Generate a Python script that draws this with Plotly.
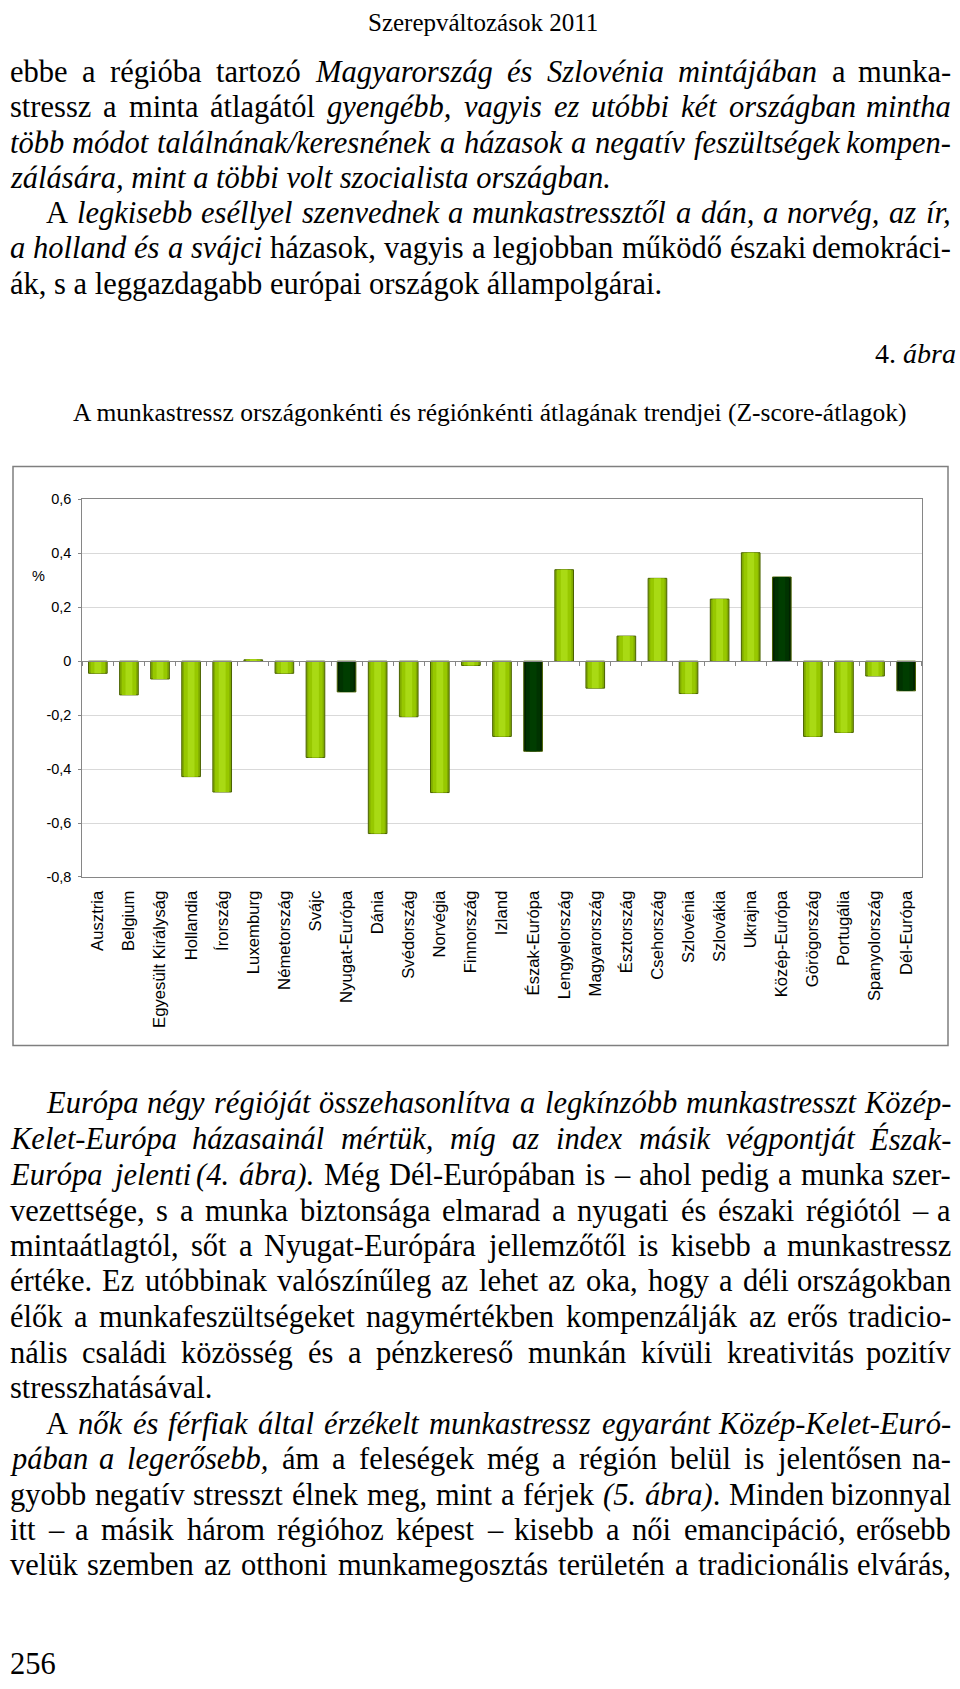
import re
import plotly.graph_objects as go

W, H = 960, 1689

categories = ["Ausztria", "Belgium", "Egyesült Királyság", "Hollandia", "Írország",
              "Luxemburg", "Németország", "Svájc", "Nyugat-Európa", "Dánia",
              "Svédország", "Norvégia", "Finnország", "Izland", "Észak-Európa",
              "Lengyelország", "Magyarország", "Észtország", "Csehország", "Szlovénia",
              "Szlovákia", "Ukrajna", "Közép-Európa", "Görögország", "Portugália",
              "Spanyolország", "Dél-Európa"]
values = [-0.045, -0.125, -0.066, -0.428, -0.485,
          0.005, -0.045, -0.357, -0.114, -0.639,
          -0.206, -0.487, -0.016, -0.279, -0.334,
          0.339, -0.100, 0.093, 0.307, -0.120,
          0.230, 0.402, 0.312, -0.279, -0.264,
          -0.055, -0.110]
regions = {"Nyugat-Európa", "Észak-Európa", "Közép-Európa", "Dél-Európa"}

ytick_vals = [0.6, 0.4, 0.2, 0, -0.2, -0.4, -0.6, -0.8]
ytick_text = ["0,6", "0,4", "0,2", "0", "-0,2", "-0,4", "-0,6", "-0,8"]

header = "Szerepváltozások 2011"
# (indented, justified, text)
para1 = [
    (False, True, "ebbe a régióba tartozó <i>Magyarország és Szlovénia mintájában</i> a munka-"),
    (False, True, "stressz a minta átlagától <i>gyengébb, vagyis ez utóbbi két országban mintha</i>"),
    (False, True, "<i>több módot találnának/keresnének a házasok a negatív feszültségek kompen-</i>"),
    (False, False, "<i>zálására, mint a többi volt szocialista országban.</i>"),
    (True, True, "A <i>legkisebb eséllyel szenvednek a munkastressztől a dán, a norvég, az ír,</i>"),
    (False, True, "<i>a holland és a svájci</i> házasok, vagyis a legjobban működő északi demokráci-"),
    (False, False, "ák, s a leggazdagabb európai országok állampolgárai."),
]
fig_label = "4. <i>ábra</i>"
chart_title = "A munkastressz országonkénti és régiónkénti átlagának trendjei (Z-score-átlagok)"
para2 = [
    (True, True, "<i>Európa négy régióját összehasonlítva a legkínzóbb munkastresszt Közép-</i>"),
    (False, True, "<i>Kelet-Európa házasainál mértük, míg az index másik végpontját Észak-</i>"),
    (False, True, "<i>Európa jelenti (4. ábra).</i> Még Dél-Európában is – ahol pedig a munka szer-"),
    (False, True, "vezettsége, s a munka biztonsága elmarad a nyugati és északi régiótól – a"),
    (False, True, "mintaátlagtól, sőt a Nyugat-Európára jellemzőtől is kisebb a munkastressz"),
    (False, True, "értéke. Ez utóbbinak valószínűleg az lehet az oka, hogy a déli országokban"),
    (False, True, "élők a munkafeszültségeket nagymértékben kompenzálják az erős tradicio-"),
    (False, True, "nális családi közösség és a pénzkereső munkán kívüli kreativitás pozitív"),
    (False, False, "stresszhatásával."),
    (True, True, "A <i>nők és férfiak által érzékelt munkastressz egyaránt Közép-Kelet-Euró-</i>"),
    (False, True, "<i>pában a legerősebb,</i> ám a feleségek még a régión belül is jelentősen na-"),
    (False, True, "gyobb negatív stresszt élnek meg, mint a férjek <i>(5. ábra)</i>. Minden bizonnyal"),
    (False, True, "itt – a másik három régióhoz képest – kisebb a női emancipáció, erősebb"),
    (False, True, "velük szemben az otthoni munkamegosztás területén a tradicionális elvárás,"),
]
page_no = "256"

# Times-compatible advance widths (per 1000 em) used for justification
ROMAN = dict(zip("abcdefghijklmnopqrstuvwxyz",
                 [444, 500, 444, 500, 444, 333, 500, 500, 278, 278, 500, 278, 778,
                  500, 500, 500, 500, 333, 389, 278, 500, 500, 722, 500, 500, 444]))
ROMAN.update(zip("ABCDEFGHIJKLMNOPQRSTUVWXYZ",
                 [722, 667, 667, 722, 611, 556, 722, 722, 333, 389, 722, 611, 889,
                  722, 722, 556, 722, 667, 556, 611, 722, 722, 944, 722, 722, 611]))
ITALIC = dict(zip("abcdefghijklmnopqrstuvwxyz",
                  [500, 500, 444, 500, 444, 278, 500, 500, 278, 278, 444, 278, 722,
                   500, 500, 500, 500, 389, 389, 278, 500, 444, 667, 444, 444, 389]))
ITALIC.update(zip("ABCDEFGHIJKLMNOPQRSTUVWXYZ",
                  [611, 611, 667, 722, 611, 611, 722, 722, 333, 444, 667, 556, 833,
                   667, 722, 611, 722, 611, 500, 556, 722, 611, 833, 611, 556, 556]))
PUNCT_R = {" ": 250, ",": 250, ".": 250, "-": 333, "–": 500, "(": 333, ")": 333,
           "/": 278, ":": 278}
PUNCT_I = {" ": 250, ",": 250, ".": 250, "-": 333, "–": 500, "(": 333, ")": 333,
           "/": 278, ":": 333}
BASE = str.maketrans("áéíóöőúüűÁÉÍÓÖŐÚÜŰ", "aeiooouuuAEIOOOUUU")


def char_w(ch, it):
    b = ch.translate(BASE)
    if b.isdigit():
        return 500
    table = ITALIC if it else ROMAN
    punct = PUNCT_I if it else PUNCT_R
    return table.get(b, punct.get(b, 500))


def parse(line):
    out, it = [], False
    for part in re.split(r"(</?i>)", line):
        if part == "<i>":
            it = True
        elif part == "</i>":
            it = False
        else:
            out += [(c, it) for c in part]
    return out


def words_of(line):
    words, cur = [], []
    for c, it in parse(line):
        if c == " ":
            if cur:
                words.append(cur)
            cur = []
        else:
            cur.append((c, it))
    if cur:
        words.append(cur)
    return words


def word_html(word):
    s, it = "", False
    for c, ci in word:
        if ci and not it:
            s += "<i>"
        if not ci and it:
            s += "</i>"
        it = ci
        s += c
    if it:
        s += "</i>"
    return s


def py(px):
    return 1 - px / H


def px_x(px):
    return px / W


SERIF = "Liberation Serif"
SANS = "Liberation Sans"
BODY = 30.5
LEFT, RIGHT = 8.6, 952.0

LIGHT_EDGE = "#80aa00"
LIGHT_MID = "#97c800"
LIGHT_HI = "#a9da14"
DARK = "#003300"
DARK_HI = "#003d00"

base_colors = [DARK if c in regions else LIGHT_MID for c in categories]
hi_colors = [DARK_HI if c in regions else LIGHT_HI for c in categories]
edge_colors = ["#002200" if c in regions else LIGHT_EDGE for c in categories]

fig = go.Figure()
fig.add_trace(go.Bar(x=categories, y=values, width=0.6,
                     marker=dict(color=edge_colors, line=dict(color="#4a6200", width=1)),
                     hoverinfo="x+y"))
fig.add_trace(go.Bar(x=categories, y=values, width=0.46,
                     marker=dict(color=base_colors, line=dict(width=0)),
                     hoverinfo="skip"))
fig.add_trace(go.Bar(x=categories, y=values, width=0.22,
                     marker=dict(color=hi_colors, line=dict(width=0)),
                     hoverinfo="skip"))

x0, x1 = 82.3, 921.7
y_top, y_bot = 496, 877.3

fig.update_layout(
    width=W, height=H,
    margin=dict(l=0, r=0, t=0, b=0),
    paper_bgcolor="white", plot_bgcolor="white",
    showlegend=False, barmode="overlay", bargap=0.4,
    font=dict(family=SANS, color="black"),
    xaxis=dict(domain=[px_x(x0), px_x(x1)], showline=True, mirror=True,
               linecolor="#868686", linewidth=1, ticks="", tickangle=-90,
               tickfont=dict(family=SANS, size=16.7, color="black"),
               ticklabelstandoff=6, showgrid=False, fixedrange=True),
    xaxis2=dict(overlaying="x", anchor="free", position=py(659),
                range=[-0.5, len(categories) - 0.5], domain=[px_x(x0), px_x(x1)],
                showline=True, linecolor="#868686", linewidth=1,
                ticks="outside", ticklen=4, tickcolor="#868686",
                tickvals=[i + 0.5 for i in range(-1, len(categories))],
                showticklabels=False, showgrid=False, zeroline=False),
    yaxis=dict(domain=[py(y_bot), py(y_top)], range=[-0.8, 0.6],
               tickvals=ytick_vals, ticktext=ytick_text,
               tickfont=dict(family=SANS, size=14.5, color="black"),
               showline=True, mirror=True, linecolor="#868686", linewidth=1,
               ticks="outside", ticklen=3, tickcolor="#868686",
               gridcolor="#d9d9d9", gridwidth=1, zeroline=False,
               ticklabelstandoff=4, fixedrange=True),
)
fig.add_trace(go.Scatter(x=[0], y=[0], xaxis="x2", mode="markers",
                         marker=dict(opacity=0), hoverinfo="skip"))

fig.add_shape(type="rect", xref="paper", yref="paper",
              x0=px_x(13), x1=px_x(948), y0=py(1047.5), y1=py(463),
              line=dict(color="#7f7f7f", width=1.5), layer="below")

ann = []


def add_text(text, x, y, anchor="left", size=BODY, family=SERIF, yanchor="middle"):
    ann.append(dict(text=text, x=px_x(x), y=py(y), xanchor=anchor, yanchor=yanchor,
                    font=dict(family=family, size=size, color="black"),
                    xref="paper", yref="paper", showarrow=False, borderpad=0))


def add_line(indent, justified, text, y):
    left = 45 if indent else LEFT
    if not justified:
        add_text(text, left, y)
        return
    ws = words_of(text)
    widths = [sum(char_w(c, it) for c, it in w) * BODY / 1000 for w in ws]
    gap = (RIGHT - left - sum(widths)) / (len(ws) - 1)
    xx = left
    for i, (w, wd) in enumerate(zip(ws, widths)):
        if i == len(ws) - 1:
            add_text(word_html(w), RIGHT, y, anchor="right")
        else:
            add_text(word_html(w), xx, y)
        xx += wd + gap


add_text(header, 483, 0.5, anchor="center", size=25, yanchor="top")
ys1 = [64.8, 100.4, 135.9, 171.5, 207.1, 242.6, 278.2]
for (ind, just, t), yy in zip(para1, ys1):
    add_line(ind, just, t, yy)
add_text(fig_label, 957, 349, anchor="right", size=28)
add_text(chart_title, 489, 408.5, anchor="center", size=25.5)
add_text("%", 38, 573, anchor="center", size=14.5, family=SANS)
ys2 = [1105.5, 1142, 1177.7, 1214.3, 1249.9, 1285.4, 1322, 1357.6, 1393.2,
       1429.8, 1465.3, 1500.9, 1536.4, 1572]
for (ind, just, t), yy in zip(para2, ys2):
    add_line(ind, just, t, yy)
add_text(page_no, LEFT, 1672, yanchor="middle")

fig.update_layout(annotations=ann)

fig.write_html("out.html", config={"displayModeBar": False},
               post_script="document.body.style.margin='0px';"
                           "document.body.style.overflow='hidden';")
